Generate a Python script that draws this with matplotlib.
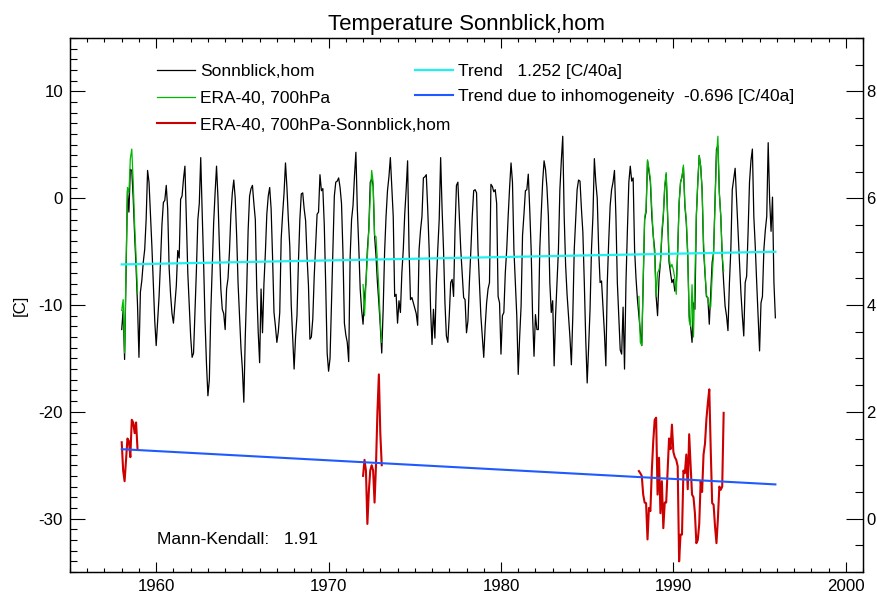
import numpy as np
import matplotlib
matplotlib.use('Agg')
import matplotlib.pyplot as plt
from matplotlib.ticker import MultipleLocator

#%% monthly means [C], Jan..Dec, Sonnblick homogenised
sonn_1958_1965 = [
    -12.3, -10.5, -15.1, -7.0, 0.7, -1.3, 2.7, 2.6, 0.0, -3.5, -6.5, -10.0,
    -14.9, -8.8, -7.7, -6.0, -4.8, -2.0, 2.6, 1.5, -1.5, -4.5, -8.0, -11.5,
    -13.8, -11.5, -9.2, -6.0, -2.5, -0.4, -0.2, 1.2, -1.0, -6.5, -9.0, -10.8,
    -11.7, -10.0, -8.2, -4.9, -5.6, -0.1, 0.2, 1.8, 3.0, -2.0, -7.0, -10.0,
    -13.0, -14.9, -14.5, -10.5, -6.7, -2.0, -0.5, 3.8, -1.3, -6.0, -11.5, -15.5,
    -18.5, -17.0, -10.7, -6.5, -2.3, 0.5, 3.0, 0.0, -4.5, -8.5, -10.4, -10.8,
    -12.3, -8.5, -7.5, -5.0, -1.5, 0.5, 1.7, 0.0, -3.5, -8.0, -11.0, -14.0,
    -16.0, -19.1, -13.0, -8.5, -3.0, 0.2, 0.9, 1.2, -0.5, -2.0, -8.5, -12.5,
]
sonn_1966_1973 = [
    -15.4, -8.5, -12.6, -8.0, -5.1, -1.5, 0.2, 1.0, -1.0, -5.5, -10.7, -12.0,
    -13.5, -12.5, -10.7, -3.8, -1.5, 0.5, 3.3, 1.0, -2.0, -4.5, -10.0, -13.0,
    -16.0, -13.0, -11.0, -6.0, -2.0, 0.4, 0.5, -1.0, -2.1, -5.5, -8.2, -13.2,
    -13.0, -11.3, -7.3, -4.5, -1.5, -1.3, 2.2, 0.7, 0.9, -2.5, -8.2, -14.5,
    -16.2, -15.0, -10.0, -4.8, 0.2, 1.5, 1.6, 1.9, 1.0, -0.5, -5.1, -11.7,
    -12.8, -13.5, -15.3, -5.5, -2.0, -0.7, 2.0, 4.3, -1.0, -4.5, -8.5, -10.5,
    -11.8, -9.2, -7.9, -4.8, -2.9, 1.5, 1.8, 1.2, -3.5, -5.4, -7.9, -9.8,
    -12.0, -14.5, -10.4, -5.0, -1.7, 0.7, 2.0, 3.8, 1.0, -1.7, -9.2, -9.0,
]
sonn_1974_1981 = [
    -11.7, -9.6, -10.7, -7.0, -4.8, -1.5, 0.8, 3.5, -4.8, -9.5, -9.3, -9.8,
    -10.3, -10.8, -11.9, -4.8, -3.0, -1.7, 1.9, 2.0, 2.2, -1.0, -4.8, -10.4,
    -13.7, -10.4, -13.1, -8.0, -4.8, -2.0, 3.8, -1.0, -4.8, -9.8, -12.9, -13.5,
    -11.0, -7.9, -7.6, -9.2, -3.0, 1.2, 1.5, -1.7, -4.8, -7.0, -9.3, -9.5,
    -12.6, -11.5, -7.9, -5.0, -1.7, 0.7, 0.8, 0.5, -4.8, -8.0, -11.0, -13.0,
    -14.9, -12.0, -9.8, -8.5, -7.9, 1.3, 1.1, 0.6, 0.8, -0.5, -9.2, -9.8,
    -14.6, -11.0, -10.7, -7.0, -4.8, -1.7, 1.0, 3.3, 1.5, -4.8, -8.0, -11.0,
    -16.5, -13.0, -10.1, -3.5, -1.5, 0.7, 0.8, 2.25, -1.0, -4.8, -11.0, -14.8,
]
sonn_1982_1988 = [
    -10.9, -12.3, -12.3, -4.8, -1.5, 1.5, 3.5, 2.7, 1.0, -1.7, -7.9, -10.7,
    -9.6, -15.7, -11.0, -8.0, -4.8, 0.8, 3.5, 5.8, -1.7, -6.3, -9.0, -11.0,
    -13.0, -15.6, -11.0, -4.8, -2.0, 0.8, 1.7, 1.6, -1.0, -3.2, -7.9, -13.2,
    -17.3, -14.0, -10.4, -4.8, -1.7, 3.7, 1.5, 0.0, -4.8, -7.9, -7.75, -10.1,
    -12.6, -15.7, -7.9, -4.0, -0.7, 0.8, 1.5, 2.6, -1.7, -7.9, -11.0, -14.2,
    -14.6, -10.2, -16.0, -7.9, -3.0, 1.5, 3.0, 1.6, 1.9, -4.8, -7.5, -9.5,
    -11.0, -12.5, -13.8, -8.0, -2.0, -1.3, 3.5, 2.5, 1.5, -1.7, -3.5, -4.8,
]
sonn_1989_1995 = [
    -9.2, -11.0, -7.6, -6.0, -3.5, -1.7, 1.0, 2.25, -1.7, -6.0, -7.0, -7.9,
    -7.6, -8.7, -8.2, -5.0, -0.4, 1.5, 2.0, 2.9, -0.7, -2.3, -5.4, -11.0,
    -12.0, -13.5, -9.8, -10.4, -1.7, 1.5, 4.0, 3.0, 0.8, -4.8, -7.0, -9.2,
    -9.3, -11.8, -9.0, -6.0, -5.1, -0.1, 4.6, 4.9, 0.5, -1.7, -5.4, -7.9,
    -10.1, -11.0, -12.4, -8.0, -4.8, 0.8, 1.8, 2.8, -0.1, -3.1, -6.0, -8.8,
    -11.0, -12.9, -7.9, -7.3, -3.2, 1.5, 3.5, 4.6, -1.7, -4.5, -7.9, -11.0,
    -14.3, -9.8, -9.2, -4.8, -3.0, -1.7, 5.2, -0.1, -3.1, 0.1, -7.9, -11.2,
]
sonn_start = 1958

# ERA-40 700hPa, only the periods shown
era_1958 = [-10.5, -9.5, -14.5, -6.5, 1.0, 0.5, 3.7, 4.6, 1.5, -2.5, -5.5, -8.9]
era_1972 = [-8.1, -11.0, -8.1, -5.5, -3.0, 0.2, 2.6, 1.5, -3.5, -3.6, -6.0, -8.5,
            -11.5, -13.5]
era_1988 = [
    -9.2, -13.5, -13.8, -7.5, -1.8, -1.0, 3.6, 2.8, 1.8, -1.0, -3.5, -5.5,
    -9.2, -7.0, -6.7, -6.0, -3.0, -1.5, 1.2, 2.4, -1.5, -5.5, -6.5, -6.2,
    -6.7, -7.5, -9.0, -5.0, -0.5, 1.5, 2.0, 3.1, -0.5, -2.0, -5.0, -11.5,
    -12.0, -8.1, -13.0, -7.3, -1.5, 1.5, 4.0, 3.0, 0.8, -4.0, -6.8, -9.0,
    -9.5, -10.1, -10.2, -7.3, -5.1, -0.5, 4.0, 5.8, 0.5, -1.7, -5.4, -6.8,
]

# ERA-40 minus Sonnblick (right axis)
diff_1958 = [1.43, 0.9, 0.7, 1.1, 1.5, 1.45, 1.15, 1.85, 1.8, 1.6, 1.8, 1.3]
diff_1972 = [0.8, 1.1, 0.9, -0.1, 0.5, 0.9, 1.0, 0.9, 0.3, 1.0, 2.0, 2.7,
             1.6, 1.0]
diff_1988 = [
    0.89, 0.85, 0.80, 0.45, 0.30, 0.29, -0.39, 0.20, 0.14, 0.90, 1.45, 1.85,
    1.89, 0.45, 1.14, 0.10, 0.70, -0.18, 0.30, 0.30, 0.90, 1.50, 1.30, 1.76,
    1.25, 1.15, 1.10, 0.98, -0.80, -0.30, -0.30, 0.90, 0.85, 1.20, 0.55, 1.58,
    1.00, 0.45, 0.40, 0.10, -0.46, -0.40, -0.10, 0.70, 0.50, 1.20, 1.40, 1.86,
    2.17, 2.42, 1.30, 0.29, 0.26, -0.15, -0.46, 0.00, 0.60, 0.54, 0.60, 1.98,
]
era_starts = [1958, 1972, 1988]

# trends [C/40a] and their value at the start of the series
trend_slope = 1.252
trend_start = -6.2
inhom_slope = -0.696
inhom_start = 1.3
mann_kendall = 1.91

#%%
plt.rcParams['font.family'] = ['Liberation Sans', 'DejaVu Sans']
plt.rcParams['axes.unicode_minus'] = False
plt.rcParams['axes.linewidth'] = 0.9

fs = 12.5
tfs = 12.2
fig = plt.figure(figsize=(8.77, 5.97), dpi=100)
ax = fig.add_axes([70/877, 25/597, 793/877, 534/597])
ax2 = ax.twinx()

sonn = np.array(sonn_1958_1965 + sonn_1966_1973 + sonn_1974_1981
                + sonn_1982_1988 + sonn_1989_1995)
t = sonn_start + np.arange(len(sonn))/12.

l_sonn, = ax.plot(t, sonn, color='k', lw=0.9, zorder=2)
eras = [era_1958, era_1972, era_1988]
diffs = [diff_1958, diff_1972, diff_1988]
for i, (e, d) in enumerate(zip(eras, diffs)):
    te = era_starts[i] + np.arange(len(e))/12.
    l, = ax.plot(te, e, color='#00b800', lw=0.9, zorder=3)
    if i == 0:
        l_era = l
    l2, = ax2.plot(te, d, color='#cc0000', lw=1.5, zorder=2)
    if i == 0:
        l_diff = l2

tt = np.array([t[0], t[-1]])
l_trend, = ax.plot(tt, trend_start + trend_slope*(tt-t[0])/40., color='#20f0f0', lw=1.6, zorder=4)
l_inh, = ax2.plot(tt, inhom_start + inhom_slope*(tt-t[0])/40., color='#1e5aff', lw=1.5, zorder=3)

ax.set_xlim(1955, 2001)
ax.set_ylim(-35, 15)
ax2.set_ylim(-1, 9)
ax.xaxis.set_major_locator(MultipleLocator(10))
ax.xaxis.set_minor_locator(MultipleLocator(1))
ax.yaxis.set_major_locator(MultipleLocator(10))
ax.yaxis.set_minor_locator(MultipleLocator(1))
ax2.yaxis.set_major_locator(MultipleLocator(2))
ax2.yaxis.set_minor_locator(MultipleLocator(0.5))

ax.tick_params(axis='both', which='both', direction='in', labelsize=tfs, width=0.8)
ax.tick_params(axis='x', which='both', top=True, bottom=True)
ax.tick_params(axis='x', which='major', length=7.2, pad=5)
ax.tick_params(axis='x', which='minor', length=3.2)
ax.tick_params(axis='y', which='major', length=10.8, pad=5, right=False)
ax.tick_params(axis='y', which='minor', length=4.8, right=False)
ax2.tick_params(axis='y', which='both', direction='in', labelsize=12, width=0.8)
ax2.tick_params(axis='y', which='major', length=12, pad=2.6)
ax2.tick_params(axis='y', which='minor', length=6)

ax.set_title('Temperature Sonnblick,hom', fontsize=16, pad=5.8)
ax.set_ylabel('[C]', fontsize=tfs)
ax.yaxis.set_label_coords(-0.053, 0.5)

leg1 = ax2.legend(handles=[l_sonn, l_era, l_diff],
                  labels=['Sonnblick,hom', 'ERA-40, 700hPa', 'ERA-40, 700hPa-Sonnblick,hom'],
                  loc='upper left', bbox_to_anchor=(0.1093, 0.951), frameon=False,
                  borderpad=0, borderaxespad=0, handlelength=2.2, handletextpad=0.29,
                  labelspacing=0.66, fontsize=fs)
ax2.add_artist(leg1)
ax2.legend(handles=[l_trend, l_inh],
           labels=['Trend   %.3f [C/40a]' % trend_slope,
                   'Trend due to inhomogeneity  %.3f [C/40a]' % inhom_slope],
           loc='upper left', bbox_to_anchor=(0.435, 0.951), frameon=False,
           borderpad=0, borderaxespad=0, handlelength=2.2, handletextpad=0.29,
           labelspacing=0.55, fontsize=fs)

ax.text(0.11, 0.06, 'Mann-Kendall:   %.2f' % mann_kendall, transform=ax.transAxes,
        va='center', fontsize=fs)

fig.savefig('out.png', dpi=100)
